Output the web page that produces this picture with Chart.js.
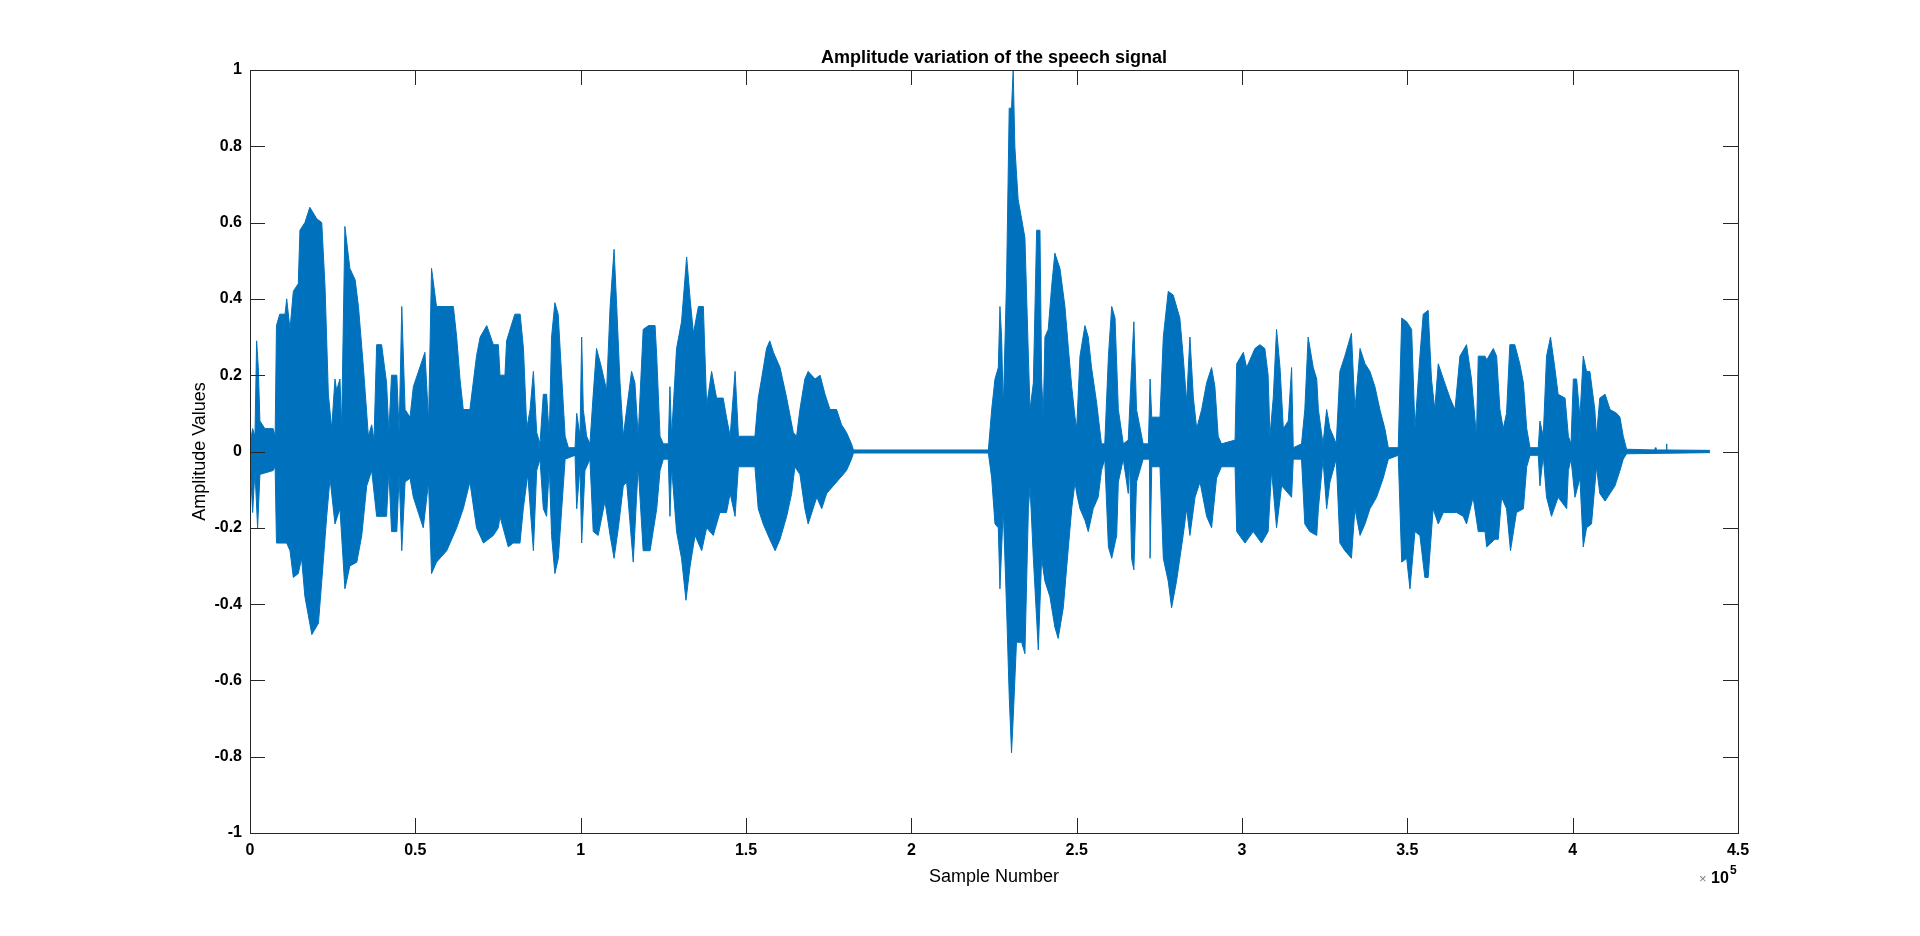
<!DOCTYPE html>
<html>
<head>
<meta charset="utf-8">
<title>Amplitude variation of the speech signal</title>
<script src="https://cdn.jsdelivr.net/npm/chart.js@4/dist/chart.umd.min.js"></script>
<style>
    html, body { margin: 0; padding: 0; background: #fff; }
    #wrap { width: 1920px; height: 936px; position: relative; }
</style>
</head>
<body>
<div id="wrap"><canvas id="chart"></canvas></div>
<script>
// envelope of the waveform: [sample number, amplitude]
const upperEnvelope = [
    [0, 0.02], [800, 0.06], [1500, 0.04], [2000, 0.29], [2500, 0.22], [3000, 0.08], [4500, 0.06], [7000, 0.06],
    [7600, 0.04], [8000, 0.33], [9000, 0.36], [10600, 0.36], [11100, 0.40], [12100, 0.32], [13100, 0.42],
    [14600, 0.44], [15100, 0.58], [16600, 0.60], [18100, 0.64], [20200, 0.61], [21700, 0.60], [22700, 0.43],
    [23700, 0.15], [24700, 0.06], [25700, 0.19], [26200, 0.16], [27200, 0.19], [27700, 0.06], [28700, 0.59],
    [30200, 0.48], [31800, 0.45], [32800, 0.38], [34300, 0.22], [35800, 0.04], [36800, 0.07], [37500, 0.03],
    [38300, 0.28], [39800, 0.28], [41300, 0.18], [42000, 0.05], [42800, 0.20], [44400, 0.20], [45100, 0.05],
    [45900, 0.38], [46900, 0.11], [48400, 0.09], [49400, 0.17], [52900, 0.26], [54000, 0.08], [54900, 0.48],
    [56400, 0.38], [61500, 0.38], [62500, 0.30], [63500, 0.19], [64500, 0.11], [66500, 0.11], [68500, 0.25],
    [69600, 0.30], [71600, 0.33], [73600, 0.28], [75100, 0.28], [75600, 0.20], [77100, 0.20], [77600, 0.29],
    [79000, 0.33], [80100, 0.36], [81700, 0.36], [82700, 0.27], [83700, 0.06], [84700, 0.11], [85700, 0.21],
    [86700, 0.05], [87700, 0.02], [88700, 0.15], [89700, 0.15], [90500, 0.04], [91200, 0.30], [92200, 0.39],
    [93200, 0.36], [94300, 0.19], [95300, 0.04], [96300, 0.01], [98300, 0.01], [98800, 0.10], [99800, 0.04],
    [100300, 0.30], [100800, 0.11], [101800, 0.04], [102800, 0.02], [103800, 0.15], [104800, 0.27],
    [106300, 0.22], [107850, 0.16], [108900, 0.38], [110100, 0.53], [110900, 0.38], [111900, 0.18],
    [112900, 0.04], [113900, 0.11], [115400, 0.21], [116400, 0.18], [117400, 0.04], [118900, 0.32],
    [120500, 0.33], [122500, 0.33], [123000, 0.25], [124000, 0.04], [125000, 0.02], [126500, 0.02],
    [127000, 0.17], [127500, 0.04], [129000, 0.27], [130500, 0.34], [132050, 0.51], [133100, 0.40],
    [134100, 0.31], [135600, 0.38], [137100, 0.38], [138100, 0.12], [139600, 0.21], [141100, 0.14],
    [143100, 0.14], [144100, 0.09], [145200, 0.04], [146700, 0.21], [147700, 0.04], [151200, 0.04],
    [152700, 0.04], [153700, 0.14], [154700, 0.19], [156200, 0.27], [157200, 0.29], [158300, 0.26],
    [160300, 0.22], [162300, 0.14], [164300, 0.05], [165300, 0.04], [166300, 0.11], [167800, 0.19],
    [168800, 0.21], [170900, 0.19], [172400, 0.20], [173900, 0.15], [175400, 0.11], [177400, 0.11],
    [178900, 0.07], [180400, 0.05], [181900, 0.02], [182500, 0.004], [223300, 0.004], [224300, 0.11],
    [225300, 0.19], [226300, 0.22], [226800, 0.38], [227300, 0.30], [227800, 0.11], [228800, 0.45],
    [229600, 0.90], [230300, 0.90], [230800, 1.00], [231300, 0.80], [232300, 0.66], [233350, 0.61],
    [234350, 0.56], [235400, 0.25], [235900, 0.11], [236900, 0.18], [237900, 0.58], [238900, 0.58],
    [239400, 0.19], [239900, 0.09], [240400, 0.30], [241400, 0.32], [242400, 0.43], [243400, 0.52],
    [244950, 0.48], [246450, 0.38], [247500, 0.27], [248500, 0.17], [249500, 0.09], [250000, 0.06],
    [251000, 0.25], [252500, 0.33], [253500, 0.30], [254500, 0.22], [256000, 0.13], [257500, 0.02],
    [258500, 0.02], [259600, 0.25], [260600, 0.38], [261600, 0.35], [262600, 0.11], [264100, 0.02],
    [265600, 0.03], [266600, 0.22], [267300, 0.34], [268100, 0.11], [270100, 0.02], [271700, 0.02],
    [272200, 0.19], [272700, 0.09], [275200, 0.09], [276200, 0.30], [277700, 0.42], [279200, 0.41],
    [281200, 0.35], [282200, 0.25], [283250, 0.13], [284250, 0.30], [285300, 0.14], [286300, 0.06],
    [287800, 0.11], [289300, 0.18], [290800, 0.22], [291800, 0.17], [292800, 0.04], [293800, 0.02],
    [297900, 0.03], [298400, 0.23], [300400, 0.26], [301400, 0.22], [302400, 0.24], [303900, 0.27],
    [305400, 0.28], [306900, 0.27], [307900, 0.20], [308450, 0.04], [309450, 0.14], [310450, 0.32],
    [311500, 0.22], [312500, 0.06], [314000, 0.08], [315000, 0.22], [315500, 0.01], [318000, 0.02],
    [319000, 0.11], [320000, 0.30], [321550, 0.22], [322600, 0.19], [323100, 0.11], [324500, 0.02],
    [325600, 0.11], [326600, 0.06], [327600, 0.04], [328500, 0.02], [329600, 0.21], [331100, 0.25],
    [332100, 0.28], [333100, 0.31], [334150, 0.11], [335700, 0.27], [337200, 0.23], [338700, 0.21],
    [340200, 0.17], [341700, 0.11], [343200, 0.06], [344250, 0.01], [347250, 0.01], [348300, 0.35],
    [349800, 0.34], [351300, 0.32], [352300, 0.06], [353800, 0.25], [354800, 0.36], [356300, 0.37],
    [357300, 0.19], [358300, 0.11], [359350, 0.23], [360900, 0.19], [362900, 0.14], [364400, 0.11],
    [365900, 0.25], [367900, 0.28], [369400, 0.19], [370900, 0.04], [371450, 0.25], [373500, 0.25],
    [374000, 0.24], [376000, 0.27], [377000, 0.25], [378000, 0.11], [379000, 0.06], [380000, 0.10],
    [381000, 0.28], [382500, 0.28], [384000, 0.23], [385100, 0.18], [386100, 0.06], [387100, 0.01],
    [389600, 0.01], [390100, 0.08], [391100, 0.04], [392100, 0.25], [393300, 0.30], [394600, 0.22],
    [395600, 0.15], [397700, 0.14], [398700, 0.04], [399500, 0.02], [400200, 0.19], [401200, 0.19],
    [402200, 0.09], [403200, 0.25], [404200, 0.21], [405200, 0.21], [406700, 0.11], [407200, 0.04],
    [408200, 0.14], [409800, 0.15], [411300, 0.11], [413300, 0.10], [414300, 0.09], [415300, 0.04],
    [416300, 0.006], [424800, 0.004], [425000, 0.01], [425200, 0.004], [428300, 0.004], [428400, 0.02],
    [428500, 0.004], [441500, 0.003]
];

const lowerEnvelope = [
    [0, -0.02], [800, -0.16], [1500, -0.05], [2300, -0.20], [3000, -0.06], [7000, -0.05], [7600, -0.04],
    [8000, -0.24], [11100, -0.24], [12100, -0.26], [13100, -0.33], [14600, -0.32], [15600, -0.28],
    [16600, -0.38], [18700, -0.48], [20700, -0.45], [21700, -0.34], [23200, -0.17], [24200, -0.07],
    [25700, -0.19], [27200, -0.15], [28700, -0.36], [30200, -0.30], [32300, -0.29], [33800, -0.22],
    [35300, -0.09], [36800, -0.05], [38300, -0.17], [41300, -0.17], [42000, -0.05], [42800, -0.21],
    [44400, -0.21], [45100, -0.06], [45900, -0.26], [46900, -0.08], [48400, -0.07], [49400, -0.12],
    [52400, -0.20], [54000, -0.08], [54900, -0.32], [56400, -0.29], [59500, -0.26], [62500, -0.20],
    [64500, -0.15], [66500, -0.08], [68500, -0.20], [70600, -0.24], [73600, -0.22], [75100, -0.20],
    [75600, -0.17], [78100, -0.25], [79600, -0.24], [81650, -0.24], [82650, -0.15], [84000, -0.06],
    [85700, -0.26], [86700, -0.05], [87700, -0.02], [88700, -0.15], [89700, -0.17], [90500, -0.04],
    [91200, -0.22], [92200, -0.32], [93240, -0.28], [94750, -0.09], [95300, -0.02], [98300, -0.01],
    [98800, -0.15], [99800, -0.04], [100300, -0.24], [101300, -0.05], [102800, -0.02], [103800, -0.21],
    [105300, -0.22], [107350, -0.13], [108900, -0.22], [110100, -0.28], [111400, -0.20], [112900, -0.09],
    [113900, -0.08], [115900, -0.29], [116900, -0.12], [117400, -0.04], [118900, -0.26], [121000, -0.26],
    [123000, -0.15], [124000, -0.05], [125000, -0.02], [126500, -0.02], [127000, -0.17], [127500, -0.04],
    [129000, -0.21], [130500, -0.28], [131850, -0.39], [133100, -0.30], [134600, -0.22], [136600, -0.26],
    [138100, -0.20], [140100, -0.22], [142100, -0.16], [144100, -0.16], [145200, -0.11], [146700, -0.17],
    [147700, -0.04], [151200, -0.04], [152700, -0.04], [153700, -0.15], [155200, -0.19], [157200, -0.23],
    [158800, -0.26], [160300, -0.23], [162300, -0.17], [163800, -0.11], [164800, -0.04], [166300, -0.06],
    [167800, -0.15], [168800, -0.19], [171400, -0.12], [172900, -0.15], [174400, -0.11], [176400, -0.09],
    [178400, -0.07], [180400, -0.05], [181900, -0.02], [182500, -0.004], [223300, -0.004], [224300, -0.07],
    [225300, -0.19], [226300, -0.20], [226800, -0.36], [227800, -0.15], [228800, -0.41], [229600, -0.64],
    [230300, -0.79], [230800, -0.70], [231800, -0.50], [233350, -0.50], [234350, -0.53], [235400, -0.15],
    [235900, -0.09], [236900, -0.28], [238400, -0.52], [239400, -0.28], [240400, -0.34], [241900, -0.38],
    [243400, -0.46], [244400, -0.49], [245950, -0.41], [247500, -0.25], [248500, -0.15], [249500, -0.08],
    [250000, -0.11], [251000, -0.15], [252500, -0.18], [253500, -0.21], [255000, -0.15], [256500, -0.12],
    [257500, -0.05], [258500, -0.02], [259600, -0.25], [260600, -0.28], [262100, -0.22], [262600, -0.08],
    [264100, -0.02], [265600, -0.11], [266000, -0.02], [266600, -0.28], [267300, -0.31], [268100, -0.08],
    [270100, -0.02], [272000, -0.02], [272200, -0.28], [272700, -0.04], [275200, -0.04], [276200, -0.28],
    [277700, -0.34], [278700, -0.41], [280200, -0.34], [282200, -0.22], [283250, -0.15], [284250, -0.22],
    [285800, -0.12], [287300, -0.08], [289300, -0.17], [290800, -0.20], [292300, -0.07], [293800, -0.04],
    [297900, -0.04], [298400, -0.21], [300900, -0.24], [303400, -0.21], [305900, -0.24], [307900, -0.21],
    [308950, -0.05], [310450, -0.20], [312000, -0.09], [315000, -0.12], [315500, -0.02], [318000, -0.02],
    [319000, -0.19], [320500, -0.21], [322600, -0.22], [323100, -0.15], [324500, -0.02], [325600, -0.15],
    [326600, -0.08], [328500, -0.02], [329600, -0.24], [331100, -0.26], [333100, -0.28], [334150, -0.15],
    [335700, -0.22], [337200, -0.19], [338700, -0.15], [340700, -0.12], [342700, -0.07], [344250, -0.02],
    [347250, -0.01], [348300, -0.29], [349800, -0.28], [350800, -0.36], [352300, -0.21], [353800, -0.22],
    [355300, -0.33], [356300, -0.33], [357800, -0.15], [359350, -0.19], [360900, -0.16], [362900, -0.16],
    [364900, -0.16], [366900, -0.17], [367900, -0.19], [369900, -0.12], [371450, -0.21], [373500, -0.21],
    [374000, -0.25], [376500, -0.23], [377500, -0.23], [378500, -0.12], [380000, -0.15], [381200, -0.26],
    [383000, -0.16], [385100, -0.15], [386100, -0.04], [387100, -0.01], [389600, -0.01], [390100, -0.09],
    [391100, -0.01], [392100, -0.12], [393600, -0.17], [395600, -0.12], [398200, -0.15], [398700, -0.05],
    [399500, -0.02], [400700, -0.12], [402200, -0.07], [403200, -0.25], [404200, -0.20], [405700, -0.19],
    [407200, -0.04], [408200, -0.11], [409800, -0.13], [411300, -0.11], [412800, -0.09], [414300, -0.05],
    [415300, -0.02], [416300, -0.006], [441500, -0.003]
];

const xTickValues = [0, 50000, 100000, 150000, 200000, 250000, 300000, 350000, 400000, 450000];
const xTickLabels = ['0', '0.5', '1', '1.5', '2', '2.5', '3', '3.5', '4', '4.5'];
const yTickValues = [-1, -0.8, -0.6, -0.4, -0.2, 0, 0.2, 0.4, 0.6, 0.8, 1];
const yTickLabels = ['-1', '-0.8', '-0.6', '-0.4', '-0.2', '0', '0.2', '0.4', '0.6', '0.8', '1'];

const lineColor = '#0072BD';
const axisColor = '#262626';
const fontFamily = '"Liberation Sans", Arial, Helvetica, sans-serif';

// box round the axes, inward ticks on all four sides and the x10^5 multiplier
const matlabAxes = {
    id: 'matlabAxes',
    afterDatasetsDraw(chart) {
        const {ctx, chartArea: a, scales: {x, y}} = chart;
        const len = 15;
        ctx.save();
        ctx.strokeStyle = axisColor;
        ctx.lineWidth = 1;
        ctx.beginPath();
        x.ticks.forEach(t => {
            const px = Math.round(x.getPixelForValue(t.value)) + 0.5;
            ctx.moveTo(px, a.bottom);
            ctx.lineTo(px, a.bottom - len);
            ctx.moveTo(px, a.top);
            ctx.lineTo(px, a.top + len);
        });
        y.ticks.forEach(t => {
            const py = Math.round(y.getPixelForValue(t.value)) + 0.5;
            ctx.moveTo(a.left, py);
            ctx.lineTo(a.left + len, py);
            ctx.moveTo(a.right, py);
            ctx.lineTo(a.right - len, py);
        });
        ctx.stroke();
        ctx.strokeRect(Math.round(a.left) + 0.5, Math.round(a.top) + 0.5,
            Math.round(a.right - a.left), Math.round(a.bottom - a.top));

        ctx.textBaseline = 'alphabetic';
        ctx.fillStyle = '#808080';
        ctx.font = '13px ' + fontFamily;
        ctx.fillText('\u00d7', a.right - 39, a.bottom + 50);
        ctx.fillStyle = '#000';
        ctx.font = 'bold 16px ' + fontFamily;
        ctx.fillText('10', a.right - 27, a.bottom + 50);
        ctx.font = 'bold 12px ' + fontFamily;
        ctx.fillText('5', a.right - 8, a.bottom + 41);
        ctx.restore();
    }
};

new Chart(document.getElementById('chart'), {
    type: 'line',
    data: {
        datasets: [{
            label: 'upper',
            data: upperEnvelope.map(p => ({x: p[0], y: p[1]})),
            borderColor: lineColor,
            backgroundColor: lineColor,
            borderWidth: 1,
            pointRadius: 0,
            tension: 0,
            fill: '+1'
        }, {
            label: 'lower',
            data: lowerEnvelope.map(p => ({x: p[0], y: p[1]})),
            borderColor: lineColor,
            backgroundColor: lineColor,
            borderWidth: 1,
            pointRadius: 0,
            tension: 0,
            fill: false
        }]
    },
    options: {
        responsive: true,
        maintainAspectRatio: false,
        animation: false,
        layout: {padding: {top: 0, left: 0, right: 182, bottom: 0}},
        plugins: {
            legend: {display: false},
            tooltip: {enabled: false},
            title: {
                display: true,
                fullSize: false,
                text: 'Amplitude variation of the speech signal',
                color: '#000',
                font: {family: fontFamily, size: 18, weight: 'bold'},
                padding: {top: 47.2, bottom: 1.2}
            }
        },
        scales: {
            x: {
                type: 'linear',
                min: 0,
                max: 450000,
                afterBuildTicks: scale => {
                    scale.ticks = xTickValues.map(v => ({value: v}));
                },
                afterFit: scale => {
                    scale.height = 103;
                },
                grid: {display: false, drawTicks: false},
                border: {display: false},
                ticks: {
                    color: '#000',
                    padding: 8,
                    maxRotation: 0,
                    autoSkip: false,
                    font: {family: fontFamily, size: 16, weight: 'bold'},
                    callback: (v, i) => xTickLabels[i]
                },
                title: {
                    display: true,
                    text: 'Sample Number',
                    color: '#000',
                    font: {family: fontFamily, size: 18},
                    padding: {top: 0, bottom: 48.2}
                }
            },
            y: {
                min: -1,
                max: 1,
                afterBuildTicks: scale => {
                    scale.ticks = yTickValues.map(v => ({value: v}));
                },
                afterFit: scale => {
                    scale.width = 250;
                },
                grid: {display: false, drawTicks: false},
                border: {display: false},
                ticks: {
                    color: '#000',
                    padding: 8,
                    autoSkip: false,
                    font: {family: fontFamily, size: 16, weight: 'bold'},
                    callback: (v, i) => yTickLabels[i]
                },
                title: {
                    display: true,
                    text: 'Amplitude Values',
                    color: '#000',
                    font: {family: fontFamily, size: 18},
                    padding: {top: 189.2, bottom: 0}
                }
            }
        }
    },
    plugins: [matlabAxes]
});
</script>
</body>
</html>
